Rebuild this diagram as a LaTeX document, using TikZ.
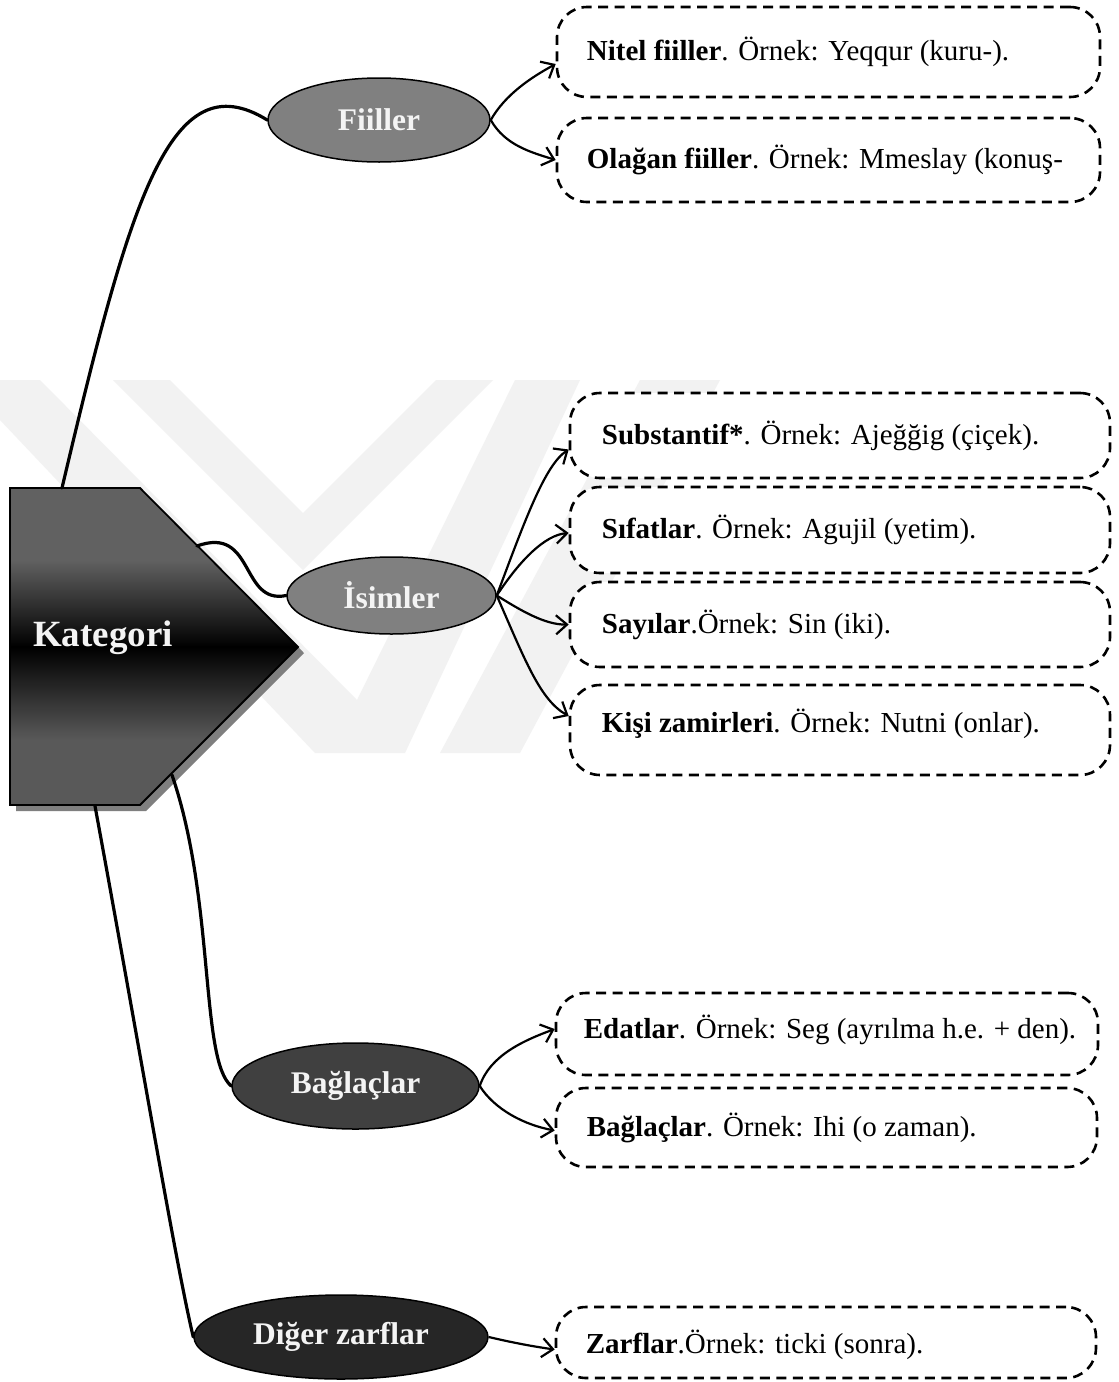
\documentclass[tikz,border=0pt]{standalone}
\usepackage{fontspec}
\setmainfont{Liberation Serif}
\usetikzlibrary{shapes.geometric,arrows.meta}
\definecolor{wm}{gray}{0.95}
\definecolor{katlight}{gray}{0.38}
\definecolor{katlow}{gray}{0.35}
\definecolor{midgray}{HTML}{808080}
\definecolor{dgray}{HTML}{404040}
\definecolor{dkst}{HTML}{262626}
\definecolor{shadowgray}{HTML}{7F7F7F}
\definecolor{lbl}{HTML}{F4F4F4}
\begin{document}
\begin{tikzpicture}[x=1pt,y=-1pt,
  catnode/.style={ellipse,draw=black,line width=1.5pt,inner sep=0pt,text=lbl,
    font=\fontsize{31.5}{36}\selectfont\bfseries},
  exbox/.style={draw=black,line width=2.6pt,dash pattern=on 10pt off 6.5pt,
    rounded corners=30pt,fill=white,inner sep=0pt},
  boxtext/.style={anchor=west,inner sep=0pt,font=\fontsize{29}{34}\selectfont},
  trunk/.style={line width=3.2pt,line cap=round},
  branch/.style={line width=2.2pt,
    -{Straight Barb[length=11pt,width=19pt,line width=2.2pt]}},
]
\useasboundingbox (0,0) rectangle (1119,1382);
\fill[white] (0,0) rectangle (1119,1382);

% faint watermark
\fill[wm] (0,380)--(40,380)--(357,700)--(515,380)--(580,380)--(405,753)--(315,753)--(0,420)--cycle;
\fill[wm] (113,380)--(170,380)--(303,513)--(436,380)--(493,380)--(303,570)--cycle;
\fill[wm] (440,753)--(520,753)--(720,380)--(640,380)--cycle;

% Kategori shape
\fill[shadowgray] (16,494)--(146,494)--(304,653)--(146,811)--(16,811)--cycle;
\begin{scope}
  \clip (10,488)--(140,488)--(298,647)--(140,805)--(10,805)--cycle;
  \fill[katlight] (0,480) rectangle (310,560);
  \shade[top color=katlight,bottom color=black] (0,560) rectangle (310,647);
  \shade[top color=black,bottom color=katlow] (0,647) rectangle (310,740);
  \fill[katlow] (0,740) rectangle (310,815);
  \draw[black,line width=1.2pt] (0,647)--(310,647);
\end{scope}
\draw[line width=1.8pt] (10,488)--(140,488)--(298,647)--(140,805)--(10,805)--cycle;
\node[anchor=base west,inner sep=0pt,text=lbl,font=\fontsize{37}{42}\selectfont\bfseries]
  (katlabel) at (33,646) {Kategori};
\coordinate (kTop) at (62,488);
\coordinate (kUp) at (197,546);
\coordinate (kLow) at (172,775);
\coordinate (kBot) at (95,806);

% category ellipses
\node[catnode,fill=midgray,minimum width=222pt,minimum height=84pt] (fiil) at (379,120) {Fiiller};
\node[catnode,fill=midgray,minimum width=209pt,minimum height=77pt] (isim) at (391.5,595.5) {İsimler};
\node[catnode,fill=dgray,minimum width=247pt,minimum height=86pt] (bagl) at (355.5,1086) {Bağlaçlar};
\node[catnode,fill=dkst,minimum width=294pt,minimum height=84pt] (dige) at (341,1337) {Diğer zarflar};

% example boxes
\node[exbox,minimum width=543pt,minimum height=90pt] (b1) at (828.5,52) {};
\node[boxtext] (t1) at ([xshift=31pt]b1.west) {\textbf{Nitel fiiller}. Örnek: Yeqqur (kuru-).};
\node[exbox,minimum width=543pt,minimum height=84pt] (b2) at (828.5,160) {};
\node[boxtext] (t2) at ([xshift=31pt]b2.west) {\textbf{Olağan fiiller}. Örnek: Mmeslay (konuş-};

\node[exbox,minimum width=540pt,minimum height=85pt] (b3) at (840,435.5) {};
\node[boxtext] (t3) at ([xshift=33pt]b3.west) {\textbf{Substantif*}. Örnek: Ajeğğig (çiçek).};
\node[exbox,minimum width=540pt,minimum height=86pt] (b4) at (840,530) {};
\node[boxtext] (t4) at ([xshift=33pt]b4.west) {\textbf{Sıfatlar}. Örnek: Agujil (yetim).};
\node[exbox,minimum width=540pt,minimum height=85pt] (b5) at (840,624.5) {};
\node[boxtext] (t5) at ([xshift=33pt]b5.west) {\textbf{Sayılar}.Örnek: Sin (iki).};
\node[exbox,minimum width=540pt,minimum height=90pt] (b6) at (840,730) {};
\node[boxtext] (t6) at ([xshift=33pt,yshift=6pt]b6.west) {\textbf{Kişi zamirleri}. Örnek: Nutni (onlar).};

\node[exbox,minimum width=542pt,minimum height=82pt] (b7) at (827,1034) {};
\node[boxtext] (t7) at ([xshift=29pt,yshift=4pt]b7.west) {\textbf{Edatlar}. Örnek: Seg (ayrılma h.e. + den).};
\node[exbox,minimum width=541pt,minimum height=79pt] (b8) at (826.5,1127.5) {};
\node[boxtext] (t8) at ([xshift=32pt]b8.west) {\textbf{Bağlaçlar}. Örnek: Ihi (o zaman).};
\node[exbox,minimum width=540pt,minimum height=71pt] (b9) at (826,1342.5) {};
\node[boxtext] (t9) at ([xshift=31pt,yshift=-2pt]b9.west) {\textbf{Zarflar}.Örnek: ticki (sonra).};

% trunk connectors
\draw[trunk] (kTop) .. controls (130,200) and (170,60) .. (fiil.west);
\draw[trunk] (kUp) .. controls (255,525) and (240,605) .. (isim.west);
\draw[trunk] (kLow) .. controls (215,900) and (200,1060) .. (bagl.west);
\draw[trunk] (kBot) .. controls (140,1050) and (175,1260) .. (dige.west);

% branch arrows
\draw[branch] (fiil.east) .. controls (505,95) and (530,78) .. ([yshift=-12pt]b1.west);
\draw[branch] (fiil.east) .. controls (505,145) and (530,152) .. (b2.west);
\draw[branch] (isim.east) .. controls (525,520) and (545,465) .. ([yshift=-14pt]b3.west);
\draw[branch] (isim.east) .. controls (520,560) and (545,535) .. ([yshift=-3pt]b4.west);
\draw[branch] (isim.east) .. controls (520,610) and (545,625) .. (b5.west);
\draw[branch] (isim.east) .. controls (525,660) and (540,700) .. ([yshift=14pt]b6.west);
\draw[branch] (bagl.east) .. controls (490,1055) and (525,1040) .. ([yshift=5pt]b7.west);
\draw[branch] (bagl.east) .. controls (495,1110) and (525,1125) .. ([yshift=-3pt]b8.west);
\draw[branch] (dige.east) .. controls (510,1342) and (530,1346) .. ([yshift=-7pt]b9.west);
\end{tikzpicture}
\end{document}
